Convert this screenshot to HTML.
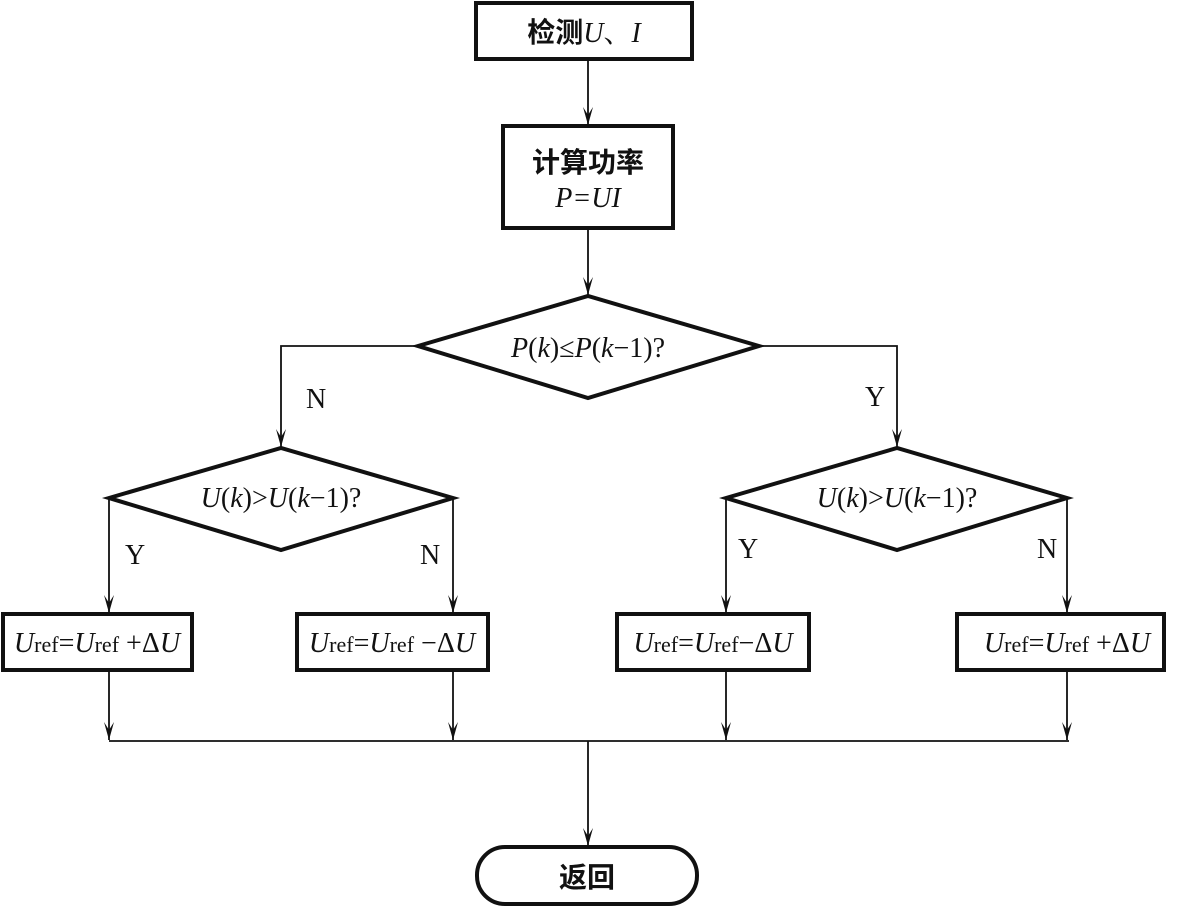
<!DOCTYPE html>
<html><head><meta charset="utf-8"><style>
body{margin:0;background:#fff}
svg text{font-family:"Liberation Serif","Noto Serif CJK SC",serif;fill:#111}
.i{font-style:italic}
.c{font-family:"Liberation Serif","Noto Sans CJK SC",sans-serif;font-weight:bold}
</style></head><body>
<svg width="1179" height="907" viewBox="0 0 1179 907" xmlns="http://www.w3.org/2000/svg">
<defs><marker id="a" markerWidth="20" markerHeight="10" refX="18" refY="5" orient="auto" markerUnits="userSpaceOnUse"><path d="M0,0 L18,5 L0,10 L8,5 Z" fill="#111"/></marker></defs>
<g fill="none" stroke="#111" stroke-width="4">
<rect x="476" y="3" width="216" height="56"/>
<rect x="503" y="126" width="170" height="102"/>
<polygon points="418,346 588,296 759,346 588,398"/>
<polygon points="109,498 281,448 453,498 281,550"/>
<polygon points="726,498 897,448 1067,498 897,550"/>
<rect x="3" y="614" width="189" height="56"/>
<rect x="297" y="614" width="191" height="56"/>
<rect x="617" y="614" width="192" height="56"/>
<rect x="957" y="614" width="207" height="56"/>
<rect x="477" y="847" width="220" height="57" rx="28"/>
</g>
<g fill="none" stroke="#111" stroke-width="1.8">
<line x1="588" y1="59" x2="588" y2="125" marker-end="url(#a)"/>
<line x1="588" y1="228" x2="588" y2="295" marker-end="url(#a)"/>
<polyline points="418,346 281,346 281,447" marker-end="url(#a)"/>
<polyline points="759,346 897,346 897,447" marker-end="url(#a)"/>
<line x1="109" y1="498" x2="109" y2="613" marker-end="url(#a)"/>
<line x1="453" y1="498" x2="453" y2="613" marker-end="url(#a)"/>
<line x1="726" y1="498" x2="726" y2="613" marker-end="url(#a)"/>
<line x1="1067" y1="498" x2="1067" y2="613" marker-end="url(#a)"/>
<line x1="109" y1="670" x2="109" y2="740" marker-end="url(#a)"/>
<line x1="453" y1="670" x2="453" y2="740" marker-end="url(#a)"/>
<line x1="726" y1="670" x2="726" y2="740" marker-end="url(#a)"/>
<line x1="1067" y1="670" x2="1067" y2="740" marker-end="url(#a)"/>
<line x1="109" y1="741" x2="1069" y2="741"/>
<line x1="588" y1="741" x2="588" y2="846" marker-end="url(#a)"/>
</g>
<g font-size="28">
<text x="584" y="42" text-anchor="middle"><tspan class="c">检测</tspan><tspan class="i">U</tspan>、<tspan class="i">I</tspan></text>
<text x="588" y="172" text-anchor="middle" class="c">计算功率</text>
<text x="588" y="207" text-anchor="middle" class="i">P=UI</text>
<text x="588" y="357" text-anchor="middle"><tspan class="i">P</tspan>(<tspan class="i">k</tspan>)≤<tspan class="i">P</tspan>(<tspan class="i">k</tspan>−1)?</text>
<text x="281" y="507" text-anchor="middle"><tspan class="i">U</tspan>(<tspan class="i">k</tspan>)&gt;<tspan class="i">U</tspan>(<tspan class="i">k</tspan>−1)?</text>
<text x="897" y="507" text-anchor="middle"><tspan class="i">U</tspan>(<tspan class="i">k</tspan>)&gt;<tspan class="i">U</tspan>(<tspan class="i">k</tspan>−1)?</text>
<text x="306" y="408">N</text><text x="865" y="406">Y</text>
<text x="125" y="564">Y</text><text x="420" y="564">N</text>
<text x="738" y="558">Y</text><text x="1037" y="558">N</text>
<text x="97" y="652" text-anchor="middle"><tspan class="i">U</tspan><tspan font-size="22">ref</tspan>=<tspan class="i">U</tspan><tspan font-size="22">ref</tspan> +Δ<tspan class="i">U</tspan></text>
<text x="392" y="652" text-anchor="middle"><tspan class="i">U</tspan><tspan font-size="22">ref</tspan>=<tspan class="i">U</tspan><tspan font-size="22">ref</tspan> −Δ<tspan class="i">U</tspan></text>
<text x="713" y="652" text-anchor="middle"><tspan class="i">U</tspan><tspan font-size="22">ref</tspan>=<tspan class="i">U</tspan><tspan font-size="22">ref</tspan>−Δ<tspan class="i">U</tspan></text>
<text x="1067" y="652" text-anchor="middle"><tspan class="i">U</tspan><tspan font-size="22">ref</tspan>=<tspan class="i">U</tspan><tspan font-size="22">ref</tspan> +Δ<tspan class="i">U</tspan></text>
<text x="587" y="887" text-anchor="middle" class="c">返回</text>
</g>
</svg>
</body></html>
